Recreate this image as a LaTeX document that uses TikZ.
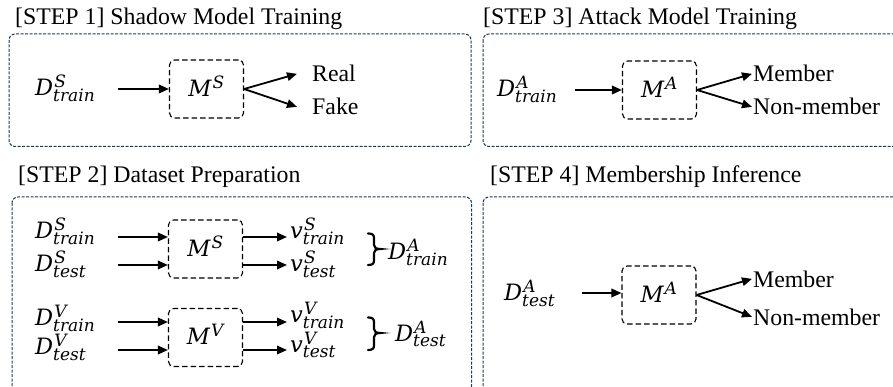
\RequirePackage{fix-cm}
\documentclass[tikz,border=0pt]{standalone}
\usepackage{fontspec}
\setmainfont{Liberation Serif}
\newfontfamily\mathletters[NFSSFamily=mathlet]{DejaVu Serif}
\DeclareSymbolFont{letters}{TU}{mathlet}{m}{it}
\DeclareMathSizes{22.5}{22.5}{17}{13}
\newcommand{\mvar}[3]{#1^{\kern1.2pt #2}_{#3}}
\usetikzlibrary{arrows.meta}
\definecolor{frame}{HTML}{1F3A56}
\begin{document}
\begin{tikzpicture}[x=1pt,y=-1pt,
  every node/.style={font=\fontsize{23.8}{28}\selectfont, inner sep=0pt},
  outer/.style={draw=frame, line width=1pt, dash pattern=on 3pt off 1.5pt, rounded corners=6pt},
  mbox/.style={draw=black, line width=1.1pt, dash pattern=on 5.5pt off 3pt, rounded corners=5pt, minimum width=74pt, minimum height=58pt, font=\fontsize{22.5}{26}\selectfont},
  arr/.style={line width=1.8pt, -{Triangle[length=10pt,width=8.5pt]}},
  brc/.style={line width=2.2pt, line cap=round},
  mth/.style={anchor=west, font=\fontsize{22.5}{26}\selectfont},
  lbl/.style={anchor=base west}]
\useasboundingbox (0,0) rectangle (893,387);
\clip (0,0) rectangle (893,387);

% frames
\draw[outer] (9,34) rectangle (471,146.5);
\draw[outer] (483,34) rectangle (905,146.5);
\draw[outer] (12,197) rectangle (471.5,392);
\draw[outer] (483,197) rectangle (905,392);

% titles
\node[lbl] (t1) at (15,25) {[STEP 1] Shadow Model Training};
\node[lbl] (t3) at (483,25) {[STEP 3] Attack Model Training};
\node[lbl] (t2) at (18,183) {[STEP 2] Dataset Preparation};
\node[lbl] (t4) at (490,183) {[STEP 4] Membership Inference};

% STEP 1
\node[mth] (d1) at (35,88.5) {$\mvar{D}{S}{train}$};
\node[mbox] (m1) at (206.5,89) {$\mvar{M}{S}{}$};
\node[lbl] (r1) at (312,82) {Real};
\node[lbl] (f1) at (312,115) {Fake};
\coordinate (a1) at (118,89);
\draw[arr] (a1) -- (a1 -| m1.west);
\draw[arr] (m1.east) -- ([xshift=-15pt]r1.west);
\draw[arr] (m1.east) -- ([xshift=-15pt]f1.west);

% STEP 3
\node[mth] (d3) at (497,89) {$\mvar{D}{A}{train}$};
\node[mbox] (m3) at (659.5,90) {$\mvar{M}{A}{}$};
\node[lbl] (r3) at (753,82) {Member};
\node[lbl] (f3) at (753,115) {Non-member};
\coordinate (a3) at (575,90);
\draw[arr] (a3) -- (a3 -| m3.west);
\draw[arr] (m3.east) -- ([xshift=-1pt]r3.west);
\draw[arr] (m3.east) -- ([xshift=-1pt]f3.west);

% STEP 2 upper
\node[mth] (d2a) at (35,231.5) {$\mvar{D}{S}{train}$};
\node[mth] (d2b) at (35,264.5) {$\mvar{D}{S}{test}$};
\node[mbox] (m2) at (205.5,249) {$\mvar{M}{S}{}$};
\node[mth] (v2a) at (290,231) {$\mvar{v}{S}{train}$};
\node[mth] (v2b) at (290,264.5) {$\mvar{v}{S}{test}$};
\coordinate (a2a) at (118,237);
\coordinate (a2b) at (118,265);
\draw[arr] (a2a) -- (a2a -| m2.west);
\draw[arr] (a2b) -- (a2b -| m2.west);
\draw[arr] (a2a -| m2.east) -- ([xshift=-3pt]a2a -| v2a.west);
\draw[arr] (a2b -| m2.east) -- ([xshift=-3pt]a2b -| v2b.west);
\draw[brc] (368,233.5) .. controls (372,233.5) and (374,234.5) .. (374,238) -- (374,245)
  .. controls (374,247.5) and (376,249) .. (380,249)
  .. controls (376,249) and (374,250.5) .. (374,253) -- (374,260.5)
  .. controls (374,264) and (372,265) .. (368,265);
\node[mth] (e2a) at (388,252) {$\mvar{D}{A}{train}$};

% STEP 2 lower
\node[mth] (d2c) at (35,318) {$\mvar{D}{V}{train}$};
\node[mth] (d2d) at (35,347.5) {$\mvar{D}{V}{test}$};
\node[mbox] (mv) at (205.5,337.5) {$\mvar{M}{V}{}$};
\node[mth] (v2c) at (290,315) {$\mvar{v}{V}{train}$};
\node[mth] (v2d) at (290,345) {$\mvar{v}{V}{test}$};
\coordinate (a2c) at (118,322);
\coordinate (a2d) at (118,350);
\draw[arr] (a2c) -- (a2c -| mv.west);
\draw[arr] (a2d) -- (a2d -| mv.west);
\draw[arr] (a2c -| mv.east) -- ([xshift=-3pt]a2c -| v2c.west);
\draw[arr] (a2d -| mv.east) -- ([xshift=-3pt]a2d -| v2d.west);
\draw[brc] (368,317.5) .. controls (372,317.5) and (374,318.5) .. (374,322) -- (374,329)
  .. controls (374,331.5) and (376,333) .. (380,333)
  .. controls (376,333) and (374,334.5) .. (374,337) -- (374,345.5)
  .. controls (374,349) and (372,350) .. (368,350);
\node[mth] (e2b) at (395,334) {$\mvar{D}{A}{test}$};

% STEP 4
\node[mth] (d4) at (504,293.5) {$\mvar{D}{A}{test}$};
\node[mbox] (m4) at (659,295) {$\mvar{M}{A}{}$};
\node[lbl] (r4) at (753,287) {Member};
\node[lbl] (f4) at (753,325) {Non-member};
\coordinate (a4) at (582,293);
\draw[arr] (a4) -- (a4 -| m4.west);
\draw[arr] (m4.east) -- ([xshift=-1pt]r4.west);
\draw[arr] (m4.east) -- ([xshift=-1pt]f4.west);
\end{tikzpicture}
\end{document}
